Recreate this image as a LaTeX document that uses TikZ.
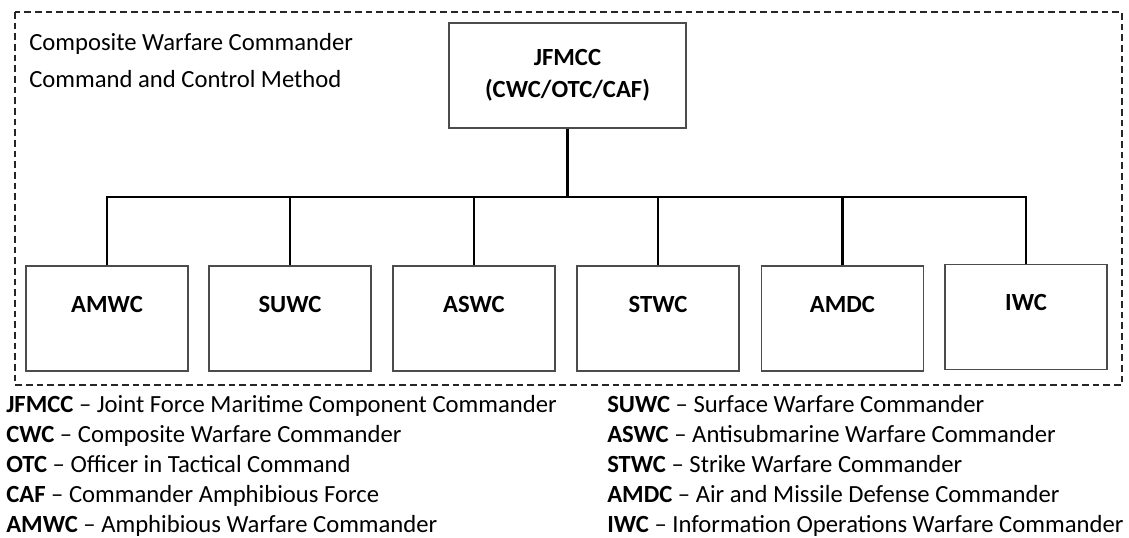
\documentclass[tikz,border=0pt]{standalone}
\usepackage{fontspec}
\setmainfont{Carlito}

\tikzset{
  every node/.style={inner sep=0pt, font=\fontsize{18.5}{22}\selectfont},
  cmdbox/.style={draw=black!70, line width=1pt, minimum width=121.5pt, minimum height=78.75pt,
    font=\fontsize{18.5}{22}\selectfont\bfseries, text height=11.9pt, text depth=21pt},
  topbox/.style={draw=black!70, line width=1pt, minimum width=177.75pt, minimum height=78.75pt,
    align=center, font=\fontsize{18.5}{23.6}\selectfont\bfseries},
  link/.style={draw=black, line width=1.8pt},
  legend/.style={anchor=base west}
}

\begin{document}
\begin{tikzpicture}[x=0.75pt, y=-0.75pt]
\useasboundingbox (0,0) rectangle (1129,537);

\def\xl{15};
\def\xr{1122};
\def\yt{12};
\def\yb{385};

\def\ybus{197};
\def\ybox{318.5};

\def\xla{6};
\def\xlb{607};

% frame
\draw[line width=1.2pt, black!85, dash pattern=on 5pt off 3pt] (\xl, \yt) rectangle (\xr, \yb);

\node[legend] (t1) at (29, 50) {Composite Warfare Commander};
\node[legend] (t2) at (29, 87) {Command and Control Method};

\node[topbox] (jfmcc) at (567.5, 75.5) {JFMCC\\(CWC/OTC/CAF)};

\node[cmdbox] (amwc) at (107, \ybox) {AMWC};
\node[cmdbox] (suwc) at (290, \ybox) {SUWC};
\node[cmdbox] (aswc) at (474, \ybox) {ASWC};
\node[cmdbox] (stwc) at (658, \ybox) {STWC};
\node[cmdbox] (amdc) at (842.5, \ybox) {AMDC};
\node[cmdbox] (iwc) at (1026, 317) {IWC};

\coordinate (tap) at (567.5, \ybus);

\draw[link] (jfmcc.south) -- (tap);
\draw[link] (amwc.north) |- (tap) -| (iwc.north);
\draw[link] (suwc.north) -- (suwc.north |- tap);
\draw[link] (aswc.north) -- (aswc.north |- tap);
\draw[link] (stwc.north) -- (stwc.north |- tap);
\draw[link] (amdc.north) -- (amdc.north |- tap);

% legend
\node[legend] (la) at (\xla, 412) {\textbf{JFMCC} -- Joint Force Maritime Component Commander};
\node[legend] (lb) at (\xla, 442.5) {\textbf{CWC} -- Composite Warfare Commander};
\node[legend] (lc) at (\xla, 472.5) {\textbf{OTC} -- Officer in Tactical Command};
\node[legend] (ld) at (\xla, 502.5) {\textbf{CAF} -- Commander Amphibious Force};
\node[legend] (le) at (\xla, 532) {\textbf{AMWC} -- Amphibious Warfare Commander};

\node[legend] (ra) at (\xlb, 412) {\textbf{SUWC} -- Surface Warfare Commander};
\node[legend] (rb) at (\xlb, 442.5) {\textbf{ASWC} -- Antisubmarine Warfare Commander};
\node[legend] (rc) at (\xlb, 472.5) {\textbf{STWC} -- Strike Warfare Commander};
\node[legend] (rd) at (\xlb, 502.5) {\textbf{AMDC} -- Air and Missile Defense Commander};
\node[legend] (re) at (\xlb, 532) {\textbf{IWC} -- Information Operations Warfare Commander};

\end{tikzpicture}
\end{document}
